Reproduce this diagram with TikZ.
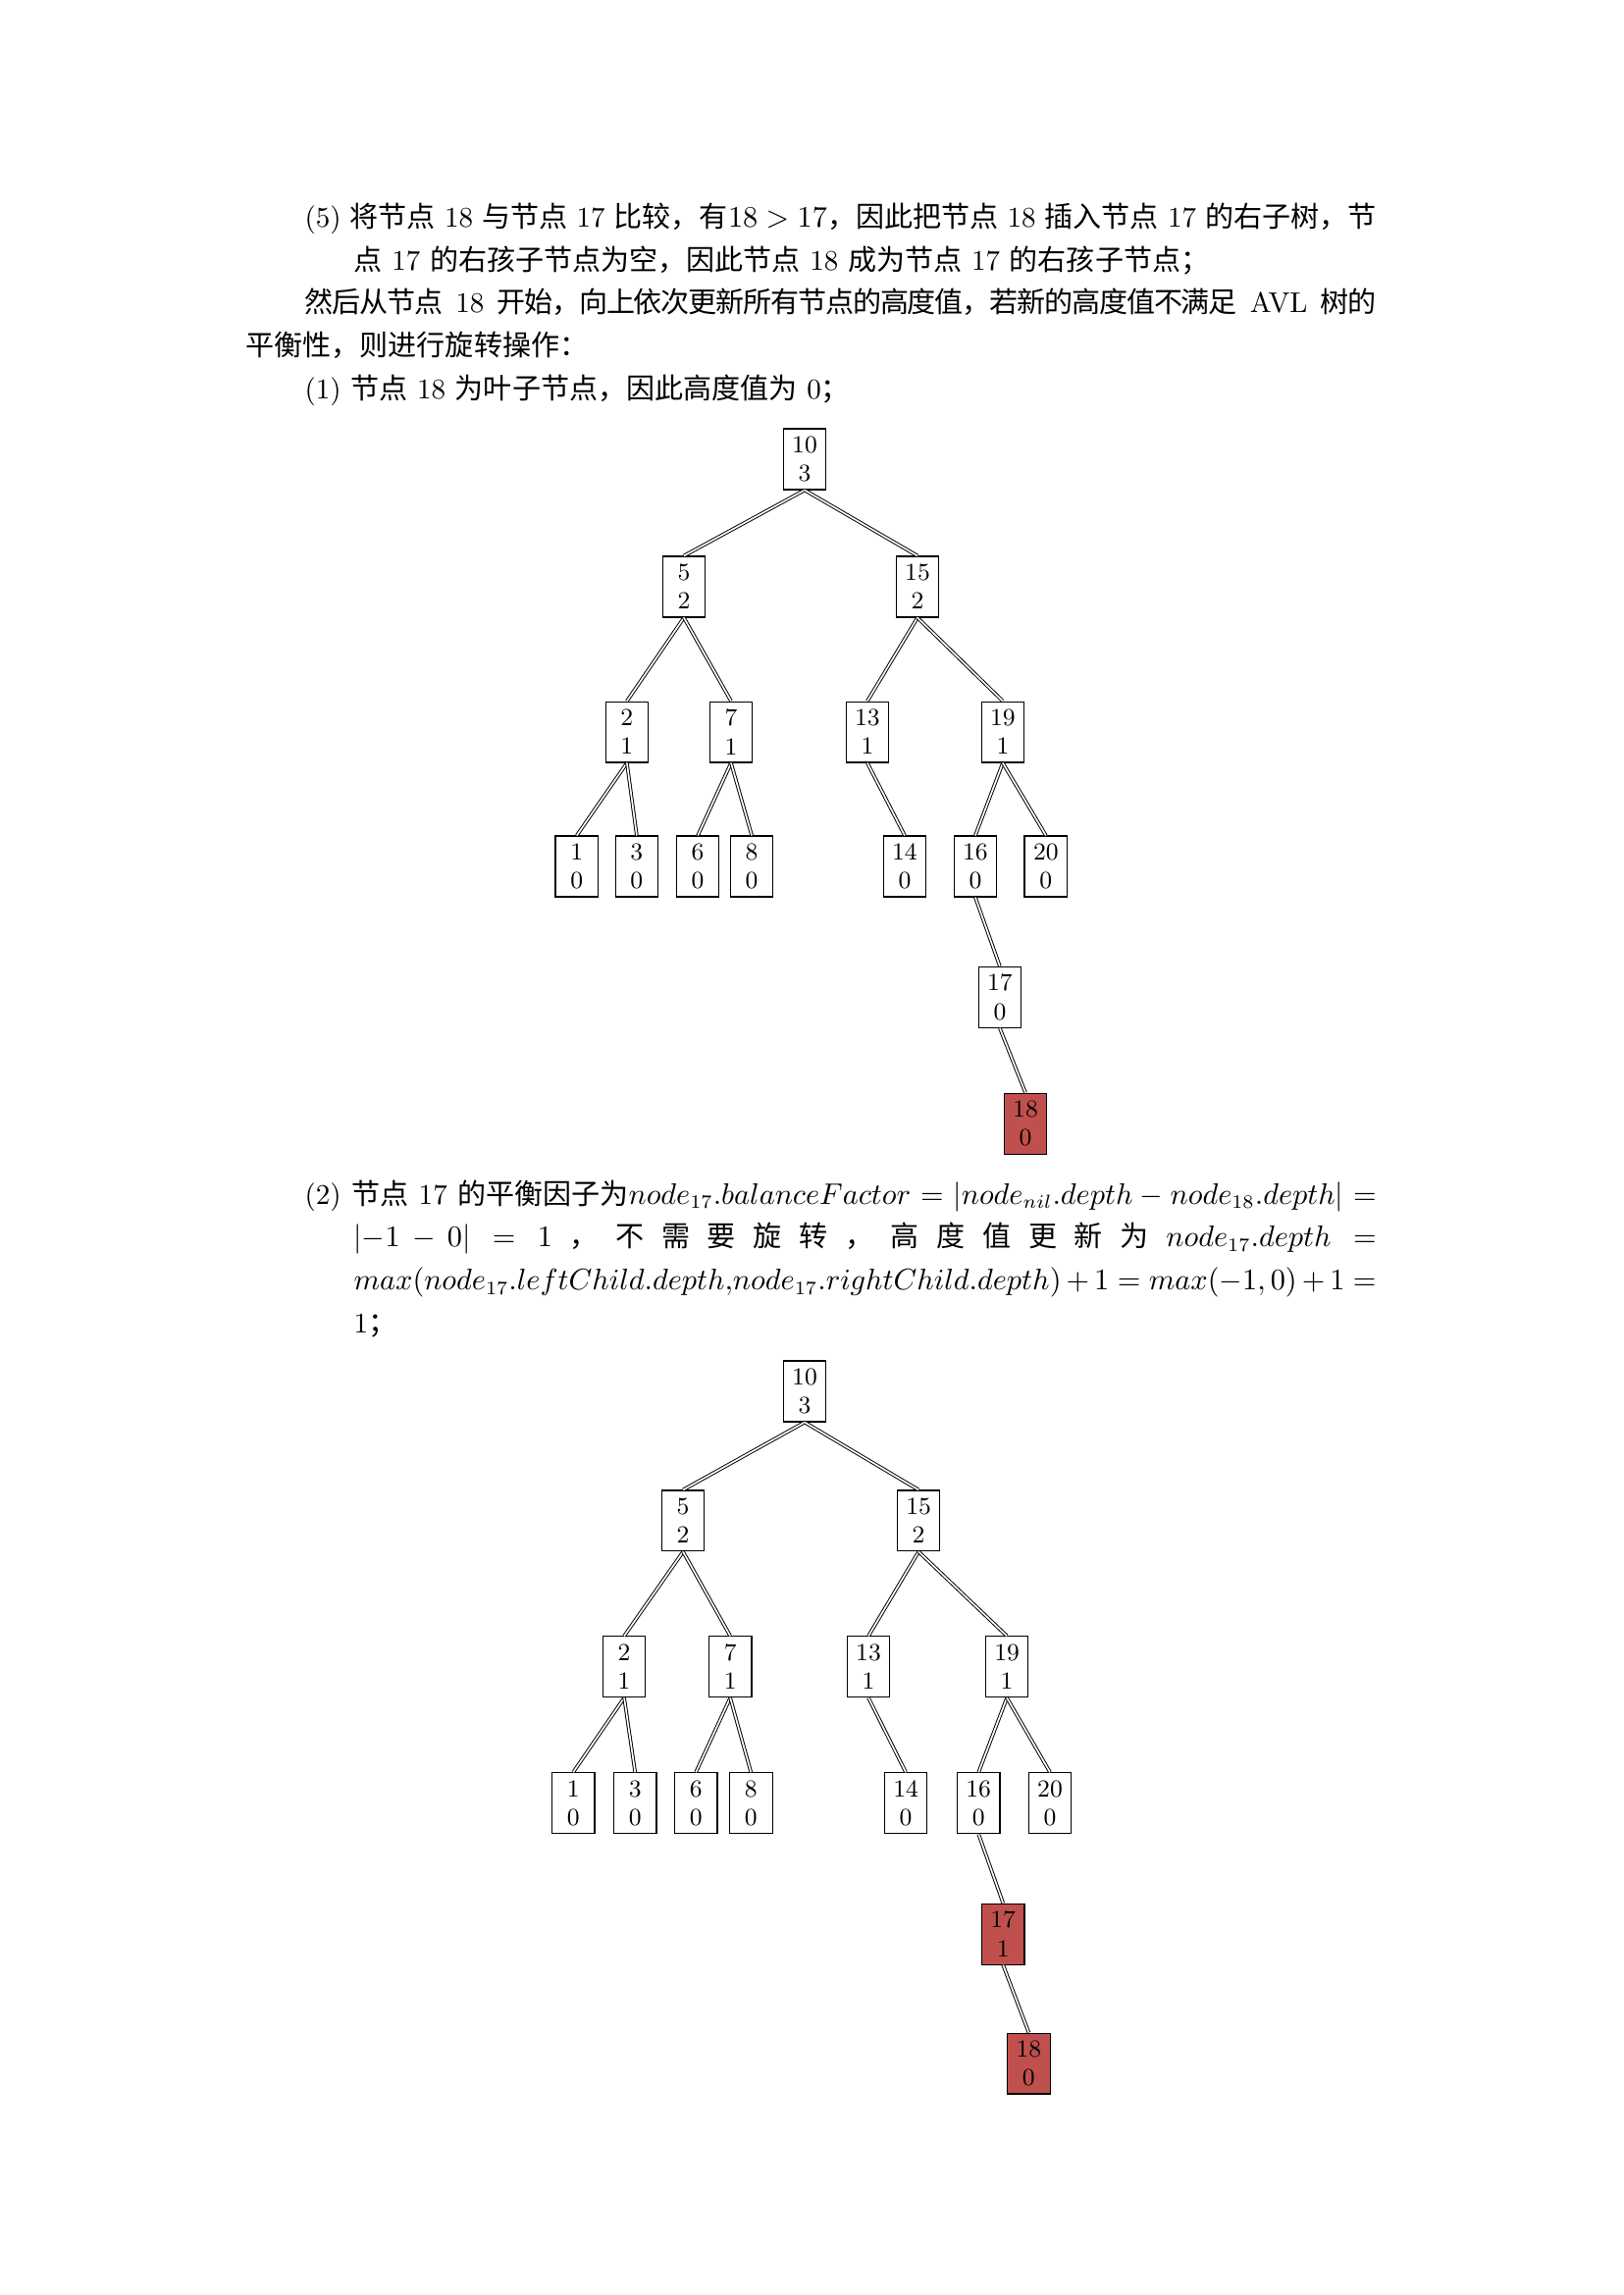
\documentclass[tikz,border=0pt]{standalone}
\usepackage{fontspec}
\usepackage{amsmath}
\usetikzlibrary{positioning}
\newfontfamily\cjk{Noto Sans CJK SC}
\newfontfamily\cjkn{Noto Sans CJK SC}[LetterSpace=-4]
\definecolor{hotred}{HTML}{C0504D}

\begin{document}
\begin{tikzpicture}[x=0.36bp, y=-0.36bp, node distance=48bp,
    key/.style={draw, line width=0.4pt, fill=white, minimum width=15.7bp,
      minimum height=22.3bp, inner sep=0pt, align=center,
      font=\fontsize{9}{10.5}\selectfont},
    hot/.style={key, fill=hotred},
    link/.style={double, double distance=0.6pt, line width=0.35pt},
    para/.style={anchor=base west, inner sep=0pt, text width=414.72bp,
      align=justify, font=\fontsize{10.5}{15.8}\selectfont}]
      \useasboundingbox (0,0) rectangle (1654,2339);
      % place text
      \node[para] (t5) at (250,232) {\hangindent=39.6bp\hangafter=1\hspace*{21.6bp}(5) {\cjk 将节点} 18 {\cjk 与节点} 17 {\cjk 比较，有}$18>17${\cjk ，因此把节点} 18 {\cjk 插入节点} 17 {\cjk 的右子树，节}\linebreak
        {\cjk 点} 17 {\cjk 的右孩子节点为空，因此节点} 18 {\cjk 成为节点} 17 {\cjk 的右孩子节点；}\par};
      \node[para] (tup) at (250,319) {\hspace*{21.6bp}{\cjkn 然后从节点} 18 {\cjkn 开始，向上依次更新所有节点的高度值，若新的高度值不满足} AVL {\cjkn 树的}\linebreak
        {\cjk 平衡性，则进行旋转操作：}\par};
      \node[para] (t1) at (250,407) {\hspace*{21.6bp}(1) {\cjk 节点} 18 {\cjk 为叶子节点，因此高度值为} 0{\cjk ；}\par};
      \node[para] (t2) at (250,1227) {\hangindent=39.6bp\hangafter=1\hspace*{21.6bp}(2) {\cjk 节点} 17 {\cjk 的平衡因子为}$node_{17}.balanceFactor=\lvert node_{nil}.depth-node_{18}.depth\rvert=$\linebreak
        $\lvert -1-0\rvert=1$ {\cjk ，} {\cjk 不} {\cjk 需} {\cjk 要} {\cjk 旋} {\cjk 转} {\cjk ，} {\cjk 高} {\cjk 度} {\cjk 值} {\cjk 更} {\cjk 新} {\cjk 为} $node_{17}.depth=$\linebreak
        $max(node_{17}.leftChild.depth{,}node_{17}.rightChild.depth)+1=max(-1,0)+1=$\linebreak
        1{\cjk ；}\par};

      % place nodes, first tree
      \node[key] (a10) at (820,468) {10\\3};
      \node[key] (a5) [below of = a10, xshift=-44.3bp, yshift=1.2bp] {5\\2};
      \node[key] (a15) [below of = a10, xshift=41.4bp, yshift=1.2bp] {15\\2};
      \node[key] (a2) [below of = a5, xshift=-20.9bp, yshift=-5.3bp] {2\\1};
      \node[key] (a7) [below of = a5, xshift=17.3bp, yshift=-5.3bp] {7\\1};
      \node[key] (a13) [below of = a15, xshift=-18.4bp, yshift=-5.3bp] {13\\1};
      \node[key] (a19) [below of = a15, xshift=31.3bp, yshift=-5.3bp] {19\\1};
      \node[key] (a1) [below of = a2, xshift=-18.4bp, yshift=-1.3bp] {1\\0};
      \node[key] (a3) [below of = a2, xshift=3.6bp, yshift=-1.3bp] {3\\0};
      \node[key] (a6) [below of = a7, xshift=-12.2bp, yshift=-1.3bp] {6\\0};
      \node[key] (a8) [below of = a7, xshift=7.6bp, yshift=-1.3bp] {8\\0};
      \node[key] (a14) [below of = a13, xshift=13.7bp, yshift=-1.3bp] {14\\0};
      \node[key] (a16) [below of = a19, xshift=-10.1bp, yshift=-1.3bp] {16\\0};
      \node[key] (a20) [below of = a19, xshift=15.8bp, yshift=-1.3bp] {20\\0};
      \node[key] (a17) [below of = a16, xshift=9bp] {17\\0};
      \node[hot] (a18) [below of = a17, xshift=9.4bp, yshift=1.6bp] {18\\0};

      % place nodes, second tree
      \node[key] (b10) at (820,1418) {10\\3};
      \node[key] (b5) [below of = b10, xshift=-44.6bp, yshift=0.5bp] {5\\2};
      \node[key] (b15) [below of = b10, xshift=41.8bp, yshift=0.5bp] {15\\2};
      \node[key] (b2) [below of = b5, xshift=-21.6bp, yshift=-5.6bp] {2\\1};
      \node[key] (b7) [below of = b5, xshift=17.3bp, yshift=-5.6bp] {7\\1};
      \node[key] (b13) [below of = b15, xshift=-18.4bp, yshift=-5.6bp] {13\\1};
      \node[key] (b19) [below of = b15, xshift=32.4bp, yshift=-5.6bp] {19\\1};
      \node[key] (b1) [below of = b2, xshift=-18.7bp, yshift=-2bp] {1\\0};
      \node[key] (b3) [below of = b2, xshift=4bp, yshift=-2bp] {3\\0};
      \node[key] (b6) [below of = b7, xshift=-12.6bp, yshift=-2bp] {6\\0};
      \node[key] (b8) [below of = b7, xshift=7.6bp, yshift=-2bp] {8\\0};
      \node[key] (b14) [below of = b13, xshift=13.7bp, yshift=-2bp] {14\\0};
      \node[key] (b16) [below of = b19, xshift=-10.4bp, yshift=-2bp] {16\\0};
      \node[key] (b20) [below of = b19, xshift=15.8bp, yshift=-2bp] {20\\0};
      \node[hot] (b17) [below of = b16, xshift=9bp] {17\\1};
      \node[hot] (b18) [below of = b17, xshift=9.4bp, yshift=0.5bp] {18\\0};

      % draw edges
      \draw [link] (a10.south) -- (a5.north);
      \draw [link] (a10.south) -- (a15.north);
      \draw [link] (a5.south) -- (a2.north);
      \draw [link] (a5.south) -- (a7.north);
      \draw [link] (a15.south) -- (a13.north);
      \draw [link] (a15.south) -- (a19.north);
      \draw [link] (a2.south) -- (a1.north);
      \draw [link] (a2.south) -- (a3.north);
      \draw [link] (a7.south) -- (a6.north);
      \draw [link] (a7.south) -- (a8.north);
      \draw [link] (a13.south) -- (a14.north);
      \draw [link] (a19.south) -- (a16.north);
      \draw [link] (a19.south) -- (a20.north);
      \draw [link] (a16.south) -- (a17.north);
      \draw [link] (a17.south) -- (a18.north);

      \draw [link] (b10.south) -- (b5.north);
      \draw [link] (b10.south) -- (b15.north);
      \draw [link] (b5.south) -- (b2.north);
      \draw [link] (b5.south) -- (b7.north);
      \draw [link] (b15.south) -- (b13.north);
      \draw [link] (b15.south) -- (b19.north);
      \draw [link] (b2.south) -- (b1.north);
      \draw [link] (b2.south) -- (b3.north);
      \draw [link] (b7.south) -- (b6.north);
      \draw [link] (b7.south) -- (b8.north);
      \draw [link] (b13.south) -- (b14.north);
      \draw [link] (b19.south) -- (b16.north);
      \draw [link] (b19.south) -- (b20.north);
      \draw [link] (b16.south) -- (b17.north);
      \draw [link] (b17.south) -- (b18.north);
    \end{tikzpicture}
\end{document}
